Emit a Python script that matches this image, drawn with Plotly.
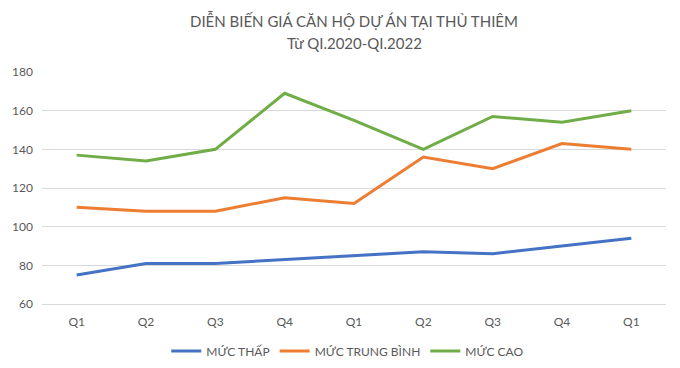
import plotly.graph_objects as go

quarters = ["Q1", "Q2", "Q3", "Q4", "Q1", "Q2", "Q3", "Q4", "Q1"]
muc_thap = [75, 81, 81, 83, 85, 87, 86, 90, 94]
muc_trung_binh = [110, 108, 108, 115, 112, 136, 130, 143, 140]
muc_cao = [137, 134, 140, 169, 155, 140, 157, 154, 160]

title_line1 = "DIỄN BIẾN GIÁ CĂN HỘ DỰ ÁN TẠI THỦ THIÊM"
title_line2 = "Từ QI.2020-QI.2022"

x = list(range(len(quarters)))
font_family = "Lato, 'Open Sans', sans-serif"
grey = "#595959"

H, T, B = 368, 72, 64
plot_h = H - T - B


def py_to_paper(py):
    return (H - B - py) / plot_h


fig = go.Figure()
for name, vals, color in [
    ("MỨC THẤP", muc_thap, "#4472C4"),
    ("MỨC TRUNG BÌNH", muc_trung_binh, "#ED7D31"),
    ("MỨC CAO", muc_cao, "#70AD47"),
]:
    fig.add_trace(go.Scatter(x=x, y=vals, mode="lines", name=name,
                             line=dict(color=color, width=3)))

fig.update_layout(
    width=680, height=H,
    margin=dict(l=42, r=14, t=T, b=B, autoexpand=False),
    paper_bgcolor="white", plot_bgcolor="white",
    font=dict(family=font_family, color=grey, size=12),
    showlegend=True,
    legend=dict(orientation="h", x=0.49, xanchor="center",
                y=py_to_paper(351), yanchor="middle",
                font=dict(size=12, color=grey),
                traceorder="normal"),
)
fig.add_annotation(text=title_line1, xref="paper", yref="paper",
                   x=0.5, y=py_to_paper(20), yanchor="middle", showarrow=False,
                   font=dict(size=15, color=grey, family=font_family))
fig.add_annotation(text=title_line2, xref="paper", yref="paper",
                   x=0.5, y=py_to_paper(43), yanchor="middle", showarrow=False,
                   font=dict(size=15, color=grey, family=font_family))
fig.update_xaxes(range=[-0.5, len(quarters) - 0.5], tickvals=x, ticktext=quarters,
                 showgrid=False, showline=True, linecolor="#D9D9D9", linewidth=1,
                 ticks="", zeroline=False, ticklabelstandoff=7,
                 tickfont=dict(size=12, color=grey))
fig.update_yaxes(range=[60, 180], dtick=20, showgrid=True, gridcolor="#D9D9D9",
                 gridwidth=1, zeroline=False, showline=False, ticks="",
                 ticklabelstandoff=8,
                 tickfont=dict(size=12, color=grey))

fig.write_html("out.html")
